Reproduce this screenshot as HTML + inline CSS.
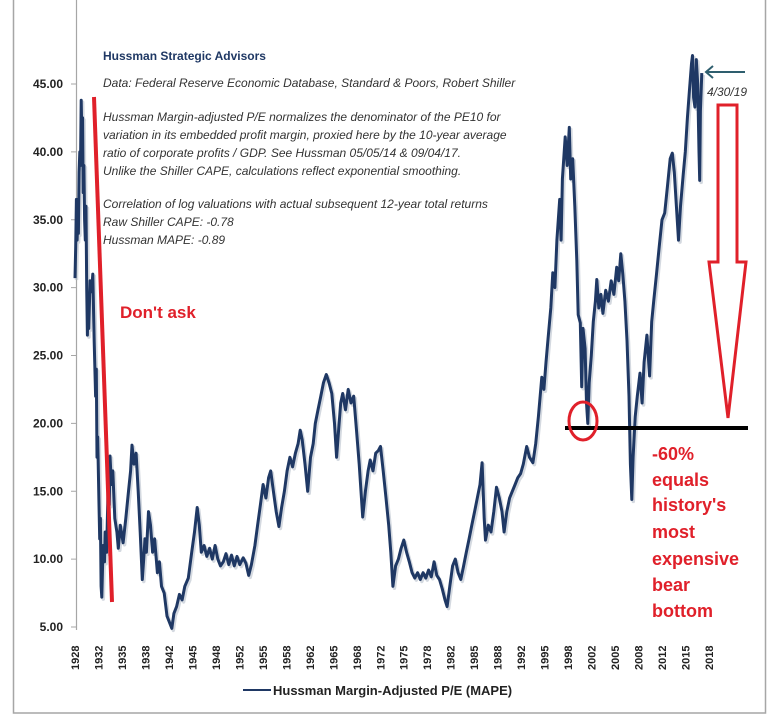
<!DOCTYPE html>
<html><head><meta charset="utf-8">
<style>
body{margin:0;background:#fff;}
svg{display:block;font-family:"Liberation Sans",sans-serif;}
</style></head>
<body>
<svg id="chart" width="773" height="726" viewBox="0 0 773 726" xmlns="http://www.w3.org/2000/svg">
<rect x="13.5" y="-2" width="752" height="715" fill="#fff" stroke="#a6a6a6" stroke-width="1.5"/>
<g id="yaxis"></g>
<g id="xaxis"></g>
<g id="series"></g>

<g font-size="12" fill="#333" font-style="italic">
<text x="103" y="60" font-style="normal" font-weight="bold" fill="#1f3864">Hussman Strategic Advisors</text>
<text x="103" y="87">Data: Federal Reserve Economic Database, Standard &amp; Poors, Robert Shiller</text>
<text x="103" y="121">Hussman Margin-adjusted P/E normalizes the denominator of the PE10 for</text>
<text x="103" y="139">variation in its embedded profit margin, proxied here by the 10-year average</text>
<text x="103" y="157">ratio of corporate profits / GDP. See Hussman 05/05/14 &amp; 09/04/17.</text>
<text x="103" y="175">Unlike the Shiller CAPE, calculations reflect exponential smoothing.</text>
<text x="103" y="208">Correlation of log valuations with actual subsequent 12-year total returns</text>
<text x="103" y="226">Raw Shiller CAPE: -0.78</text>
<text x="103" y="244">Hussman MAPE: -0.89</text>
</g>

<line x1="94" y1="97" x2="112" y2="602" stroke="#e0202a" stroke-width="4"/>
<text x="120" y="318" font-size="17" font-weight="bold" fill="#e0202a">Don't ask</text>

<line x1="565" y1="428" x2="748" y2="428" stroke="#000" stroke-width="4"/>
<ellipse cx="583" cy="421" rx="14" ry="19" fill="none" stroke="#e0202a" stroke-width="3"/>
<polygon points="718,105 737,105 737,262 746,262 728,418 709,262 718,262" fill="none" stroke="#e0202a" stroke-width="3"/>
<g stroke="#2e5e6e" stroke-width="2" fill="none">
<line x1="745" y1="72" x2="707" y2="72"/><polyline points="713,66 706,72 713,78"/>
</g>
<text x="707" y="96" font-size="12" font-style="italic" fill="#333">4/30/19</text>

<g font-size="18" font-weight="bold" fill="#e0202a">
<text x="652" y="460">-60%</text>
<text x="652" y="486">equals</text>
<text x="652" y="511">history's</text>
<text x="652" y="538">most</text>
<text x="652" y="565">expensive</text>
<text x="652" y="591">bear</text>
<text x="652" y="617">bottom</text>
</g>

<g>
<line x1="243" y1="690" x2="271" y2="690" stroke="#1f3864" stroke-width="2"/>
<text x="273" y="695" font-size="13" font-weight="bold" fill="#222">Hussman Margin-Adjusted P/E (MAPE)</text>
</g>
</svg>
<script>
const years=[1928.0,1928.1,1928.2,1928.3,1928.4,1928.5,1928.6,1928.7,1928.8,1928.9,1929.0,1929.1,1929.2,1929.3,1929.4,1929.5,1929.6,1929.7,1929.8,1929.9,1930.0,1930.2,1930.4,1930.6,1930.8,1931.0,1931.1,1931.2,1931.3,1931.5,1931.6,1931.7,1931.8,1931.9,1932.1,1932.3,1932.4,1932.6,1932.8,1933.0,1933.1,1933.3,1933.5,1933.8,1934.1,1934.3,1934.6,1935.0,1935.4,1935.8,1936.1,1936.3,1936.6,1936.9,1937.2,1937.5,1937.8,1938.0,1938.2,1938.4,1938.7,1939.0,1939.3,1939.6,1940.0,1940.3,1940.6,1941.0,1941.4,1941.8,1942.1,1942.4,1942.8,1943.2,1943.6,1944.0,1944.5,1945.0,1945.4,1945.8,1946.1,1946.4,1946.8,1947.2,1947.6,1948.0,1948.4,1948.8,1949.2,1949.6,1950.0,1950.4,1950.8,1951.2,1951.6,1952.0,1952.5,1952.9,1953.3,1953.7,1954.2,1954.6,1955.0,1955.4,1955.8,1956.2,1956.5,1956.9,1957.3,1957.7,1958.1,1958.5,1958.9,1959.3,1959.7,1960.1,1960.5,1960.8,1961.1,1961.5,1961.9,1962.3,1962.7,1963.0,1963.4,1963.8,1964.2,1964.6,1965.0,1965.4,1965.8,1966.1,1966.4,1966.7,1967.0,1967.4,1967.8,1968.2,1968.6,1969.0,1969.4,1969.9,1970.3,1970.7,1971.0,1971.4,1971.8,1972.2,1972.5,1972.9,1973.3,1973.7,1974.0,1974.3,1974.7,1975.1,1975.5,1975.9,1976.3,1976.7,1977.1,1977.5,1977.9,1978.3,1978.7,1979.1,1979.5,1979.9,1980.3,1980.7,1981.1,1981.5,1981.9,1982.2,1982.6,1983.0,1983.4,1983.8,1984.2,1984.6,1985.0,1985.4,1985.8,1986.2,1986.6,1987.0,1987.3,1987.6,1987.8,1988.2,1988.6,1989.0,1989.4,1989.8,1990.2,1990.5,1990.9,1991.3,1991.7,1992.1,1992.5,1992.9,1993.3,1993.8,1994.2,1994.7,1995.1,1995.5,1996.0,1996.3,1996.6,1996.9,1997.3,1997.6,1997.9,1998.2,1998.6,1998.8,1999.0,1999.4,1999.7,2000.0,2000.2,2000.5,2000.8,2001.1,2001.3,2001.6,2001.8,2002.0,2002.3,2002.5,2002.7,2002.9,2003.2,2003.5,2003.8,2004.0,2004.3,2004.6,2004.9,2005.3,2005.7,2006.1,2006.5,2006.9,2007.2,2007.5,2007.8,2008.1,2008.4,2008.7,2008.9,2009.1,2009.3,2009.6,2009.9,2010.3,2010.6,2010.9,2011.3,2011.7,2012.0,2012.3,2012.7,2013.1,2013.5,2013.9,2014.3,2014.7,2015.0,2015.3,2015.6,2015.9,2016.2,2016.6,2016.9,2017.2,2017.5,2017.8,2017.95,2018.1,2018.3,2018.5,2018.7,2018.9,2019.0,2019.1,2019.3];
const values=[30.7,33,36.5,33.5,35,34,38.5,40,39,43.8,41,42.5,37,39,35,33.5,36,30,26.5,29,27,30.5,29.7,31,26,22,24,17.5,19,14,11.5,13,8,7.2,11,9.8,12,10.5,15,14,17.6,15.5,16.5,13,12,10.8,12.5,11.2,13,15,16.5,18.4,17,17.8,15,12,8.5,10,11.5,10.5,13.5,12.5,10.5,11.5,9.0,9.8,8.0,7.5,5.8,5.3,4.9,6.0,6.5,7.4,7.0,8.0,8.6,10.5,12.0,13.8,12.5,10.5,11.0,10.2,10.8,10.0,11.0,10.0,9.5,9.8,10.4,9.6,10.3,9.5,10.2,9.6,10.1,9.7,8.8,9.6,11.0,12.5,14.0,15.5,14.5,16.0,16.5,15.0,13.5,12.4,13.8,15.0,16.5,17.5,16.8,17.8,18.5,19.5,18.8,17.0,15.0,17.5,18.5,20.0,21.0,22.0,23.0,23.6,23.0,22.2,20.0,17.5,19.5,21.5,22.2,21.0,22.5,21.5,22.0,19.5,17.0,13.1,15.0,16.5,17.3,16.5,17.8,18.0,18.3,16.5,14.5,12.5,10.5,8.0,9.5,10.0,10.8,11.4,10.5,9.8,9.0,8.6,9.0,8.5,9.0,8.6,9.2,8.7,9.8,8.8,8.5,7.8,7.0,6.5,8.0,9.5,10.0,9.0,8.5,9.5,10.5,11.5,12.5,13.5,14.5,15.5,17.1,13.0,11.4,12.5,12.0,13.5,15.3,14.5,13.5,12.0,13.5,14.5,15.0,15.5,16.0,16.3,17.0,18.3,17.5,17.1,18.5,20.5,23.4,22.5,24.5,26.2,28.5,31.1,30.0,33.5,36.5,33.5,38.0,41.1,39.0,41.8,38.0,39.5,36.0,32.0,28.0,27.4,22.7,27.0,25.5,21.5,20.0,23.0,25.0,27.5,29.0,30.6,28.5,29.5,28.1,29.8,29.0,30.5,29.5,31.5,30.5,32.5,31.0,29.0,26.1,22.0,17.0,14.4,17.5,20.5,22.0,23.7,21.5,24.5,26.5,23.5,27.5,29.0,31.0,33.0,35.0,35.5,37.5,39.5,39.9,38.5,36.0,33.5,36.0,38.4,40.0,42.5,44.5,46.5,47.1,44.0,43.3,46.8,45.0,40.0,37.9,43.0,45.8];
const yTicks=[5,10,15,20,25,30,35,40,45];
const xTickLabels=["1928","1932","1935","1938","1942","1945","1948","1952","1955","1958","1962","1965","1968","1972","1975","1978","1982","1985","1988","1992","1995","1998","2002","2005","2008","2012","2015","2018"];
const NS="http://www.w3.org/2000/svg";
const xs=y=>75+(y-1928)*(627/91.33);
const ys=v=>627-(v-5)*(543/40);
function mk(t,a,p){const e=document.createElementNS(NS,t);for(const k in a)e.setAttribute(k,a[k]);p.appendChild(e);return e;}
const ya=document.getElementById('yaxis');
mk('line',{x1:76.5,y1:-2,x2:76.5,y2:630,stroke:'#a6a6a6','stroke-width':1.2},ya);
yTicks.forEach(t=>{
  const y=ys(t);
  mk('line',{x1:71,y1:y,x2:76,y2:y,stroke:'#a6a6a6'},ya);
  const tx=mk('text',{x:63,y:y+4,'text-anchor':'end','font-size':12,'font-weight':'bold',fill:'#222'},ya);
  
  
  tx.textContent=t.toFixed(2);
});
const xa=document.getElementById('xaxis');
xTickLabels.forEach((l,i)=>{
  const x=75+i*(634/27);
  const tx=mk('text',{transform:`translate(${x+4},670) rotate(-90)`,'font-size':11,'font-weight':'bold',fill:'#222'},xa);
  
  
  tx.textContent=l;
});
const sg=document.getElementById('series');
const d=years.map((y,i)=>(i?'L':'M')+xs(y).toFixed(1)+','+ys(values[i]).toFixed(1)).join(' ');
mk('path',{d:d,fill:'none',stroke:'#b8c0cc','stroke-width':3.5,transform:'translate(1.5,2)','stroke-linejoin':'round',opacity:0.6},sg);
const p=mk('path',{d:d,fill:'none',stroke:'#1f3864','stroke-width':3,'stroke-linejoin':'round'},sg);


</script>
</body></html>
